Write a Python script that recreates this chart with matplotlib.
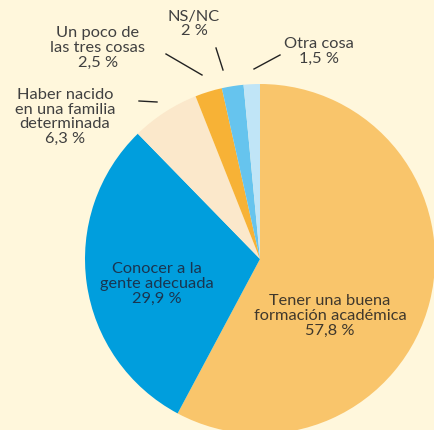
import matplotlib.pyplot as plt

labels = ["Tener una buena\nformación académica", "Conocer a la\ngente adecuada",
          "Haber nacido\nen una familia\ndeterminada", "Un poco de\nlas tres cosas",
          "NS/NC", "Otra cosa"]
values = [57.8, 29.9, 6.3, 2.5, 2.0, 1.5]
value_labels = ["57,8 %", "29,9 %", "6,3 %", "2,5 %", "2 %", "1,5 %"]
colors = ["#F9C56B", "#009EDD", "#FBE8CB", "#F7B236", "#66C4EE", "#C0E5F7"]

# label anchors in pixel coords of the 434x431 image
label_pos = [(330, 316), (157, 284), (65, 117), (98, 48), (194, 24), (319, 51)]
text_colors = ["#40382c", "#1a3550", "#404040", "#404040", "#404040", "#404040"]
leaders = [None, None, ((139, 102), (157, 103)), ((166, 55), (202, 76)),
           ((216, 49), (223, 71)), ((280, 56), (254, 70))]

bg = "#FFF7DC"
fig = plt.figure(figsize=(4.34, 4.31), dpi=100, facecolor=bg)
ax = fig.add_axes([0, 0, 1, 1])
ax.set_facecolor(bg)

# y axis inverted, so counterclock here draws clockwise on screen
ax.pie(values, colors=colors, startangle=270, counterclock=True,
       center=(260, 260), radius=175, wedgeprops=dict(linewidth=0))

for lab, val, pos, tc in zip(labels, value_labels, label_pos, text_colors):
    ax.text(pos[0], pos[1], f"{lab}\n{val}", ha="center", va="center",
            fontsize=11.8, color=tc, family=["Lato", "DejaVu Sans"],
            fontweight="normal", linespacing=1.08)

for seg in leaders:
    if seg:
        ax.plot([seg[0][0], seg[1][0]], [seg[0][1], seg[1][1]],
                color="#222222", linewidth=1.0)

ax.set_xlim(0, 434)
ax.set_ylim(431, 0)
ax.set_aspect("auto")
ax.axis("off")
fig.savefig("out.png", dpi=100, facecolor=bg)
